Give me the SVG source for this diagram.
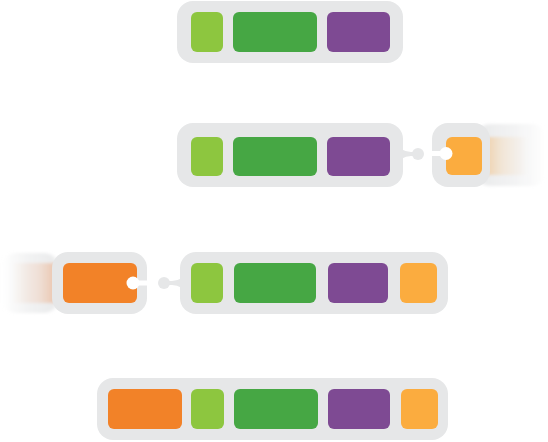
<svg xmlns="http://www.w3.org/2000/svg" width="548" height="442" viewBox="0 0 548 442">
<defs>
<style>
.box{fill:#e6e7e8}
.lg{fill:#8dc63f}
.dg{fill:#46a744}
.pu{fill:#7e4a93}
.or{fill:#f28228}
.lo{fill:#fbac3f}
.hole{fill:#ffffff}
.knob{fill:#e6e7e8}
</style>
<linearGradient id="fadeR" x1="0" x2="1" y1="0" y2="0">
<stop offset="0" stop-color="#efc48f" stop-opacity="0.95"/>
<stop offset="0.5" stop-color="#f3dcc0" stop-opacity="0.5"/>
<stop offset="1" stop-color="#f3dcc0" stop-opacity="0"/>
</linearGradient>
<linearGradient id="fadeRg" x1="0" x2="1" y1="0" y2="0">
<stop offset="0" stop-color="#e6e7e8" stop-opacity="0.9"/>
<stop offset="0.6" stop-color="#e6e7e8" stop-opacity="0.45"/>
<stop offset="1" stop-color="#e6e7e8" stop-opacity="0"/>
</linearGradient>
<linearGradient id="fadeL" x1="1" x2="0" y1="0" y2="0">
<stop offset="0" stop-color="#e9ab86" stop-opacity="0.95"/>
<stop offset="0.5" stop-color="#f0cfbb" stop-opacity="0.5"/>
<stop offset="1" stop-color="#f0cfbb" stop-opacity="0"/>
</linearGradient>
<linearGradient id="fadeLg" x1="1" x2="0" y1="0" y2="0">
<stop offset="0" stop-color="#e6e7e8" stop-opacity="0.9"/>
<stop offset="0.6" stop-color="#e6e7e8" stop-opacity="0.45"/>
<stop offset="1" stop-color="#e6e7e8" stop-opacity="0"/>
</linearGradient>
<filter id="blur" x="-20%" y="-30%" width="140%" height="160%">
<feGaussianBlur stdDeviation="2 1.5"/>
</filter>
</defs>

<g id="row1">
<rect class="box" x="177" y="1" width="226" height="62" rx="16"/>
<rect class="lg" x="191" y="12" width="32" height="40" rx="6"/>
<rect class="dg" x="233" y="12" width="84" height="40" rx="6"/>
<rect class="pu" x="327" y="12" width="63" height="40" rx="6"/>
</g>

<g id="motion">
<g filter="url(#blur)">
<rect x="476" y="124" width="70" height="62" rx="14" fill="url(#fadeRg)"/>
<rect x="478" y="137" width="50" height="38" fill="url(#fadeR)"/>
<rect x="2" y="253" width="56" height="60" rx="14" fill="url(#fadeLg)"/>
<rect x="12" y="263" width="54" height="40" fill="url(#fadeL)"/>
</g>
</g>

<g id="row2">
<rect class="box" x="177" y="123" width="226" height="64" rx="16"/>
<rect class="lg" x="191" y="137" width="32" height="39" rx="6"/>
<rect class="dg" x="233" y="137" width="84" height="39" rx="6"/>
<rect class="pu" x="327" y="137" width="63" height="39" rx="6"/>
</g>

<g id="row2-piece">
<rect class="box" x="432" y="123" width="58" height="64" rx="16"/>
<rect class="lo" x="446" y="137" width="36" height="38" rx="6"/>
<rect class="hole" x="431" y="151" width="14" height="5"/>
<circle class="hole" cx="446" cy="153.5" r="6.5"/>
</g>

<g id="row3-piece">
<rect class="box" x="52" y="252" width="95" height="62" rx="16"/>
<rect class="or" x="63" y="263" width="74" height="40" rx="6"/>
<rect class="hole" x="134" y="280.5" width="14" height="5"/>
<circle class="hole" cx="133" cy="283" r="6.5"/>
</g>

<g id="row3">
<rect class="box" x="180" y="252" width="268" height="62" rx="16"/>
<rect class="lg" x="191" y="263" width="32" height="40" rx="6"/>
<rect class="dg" x="234" y="263" width="82" height="40" rx="6"/>
<rect class="pu" x="328" y="263" width="60" height="40" rx="6"/>
<rect class="lo" x="400" y="263" width="37" height="40" rx="6"/>
</g>

<g id="row4">
<rect class="box" x="97" y="378" width="351" height="62" rx="16"/>
<rect class="or" x="108" y="389" width="74" height="40" rx="6"/>
<rect class="lg" x="191" y="389" width="33" height="40" rx="6"/>
<rect class="dg" x="234" y="389" width="84" height="40" rx="6"/>
<rect class="pu" x="328" y="389" width="62" height="40" rx="6"/>
<rect class="lo" x="401" y="389" width="37" height="40" rx="6"/>
</g>

<g id="connectors">
<path class="knob" d="M401 149 Q406 152 411 152 L414 152 L414 156 L411 156 Q406 156 401 159 Z"/>
<circle class="knob" cx="418" cy="154" r="6"/>
<path class="knob" d="M182 278 Q177 281 172 281 L168 281 L168 285 L172 285 Q177 285 182 288 Z"/>
<circle class="knob" cx="164" cy="283" r="6"/>
</g>
</svg>
